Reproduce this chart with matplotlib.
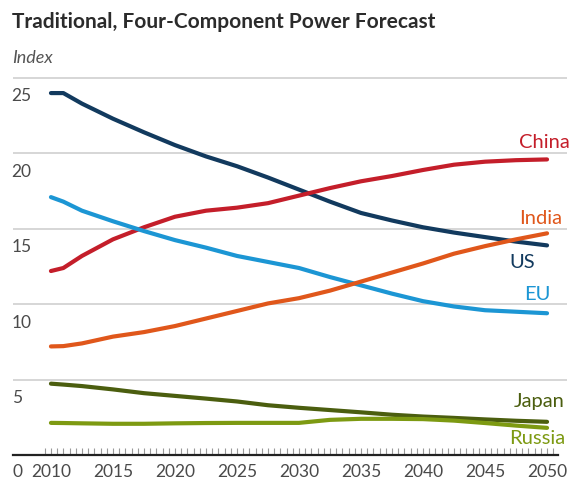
import matplotlib
matplotlib.use("Agg")
import matplotlib.pyplot as plt
import matplotlib.transforms as mtransforms
import numpy as np

plt.rcParams['font.family'] = ['Lato', 'DejaVu Sans']

# ---- data ----
years = [2010, 2011, 2012.5, 2015, 2017.5, 2020, 2022.5, 2025, 2027.5, 2030,
         2032.5, 2035, 2037.5, 2040, 2042.5, 2045, 2047.5, 2050]
us     = [24.0, 24.0, 23.3, 22.3, 21.4, 20.55, 19.8, 19.15, 18.4, 17.6,
          16.8, 16.05, 15.55, 15.1, 14.75, 14.45, 14.15, 13.9]
china  = [12.2, 12.4, 13.2, 14.3, 15.1, 15.8, 16.2, 16.4, 16.7, 17.2,
          17.7, 18.15, 18.5, 18.9, 19.25, 19.45, 19.55, 19.6]
eu     = [17.1, 16.8, 16.2, 15.5, 14.85, 14.25, 13.75, 13.2, 12.8, 12.4,
          11.8, 11.25, 10.7, 10.2, 9.85, 9.6, 9.5, 9.4]
india  = [7.2, 7.22, 7.4, 7.85, 8.15, 8.55, 9.05, 9.55, 10.05, 10.4,
          10.9, 11.5, 12.1, 12.7, 13.35, 13.85, 14.3, 14.7]
japan  = [4.73, 4.67, 4.57, 4.35, 4.1, 3.92, 3.74, 3.55, 3.3, 3.13,
          2.98, 2.83, 2.67, 2.55, 2.46, 2.36, 2.27, 2.2]
russia = [2.13, 2.12, 2.1, 2.07, 2.07, 2.1, 2.12, 2.13, 2.13, 2.13,
          2.33, 2.4, 2.4, 2.38, 2.28, 2.12, 1.95, 1.8]

series_names = ["US", "China", "EU", "India", "Japan", "Russia"]
series_values = [us, china, eu, india, japan, russia]
series_colors = ["#123a5e", "#c41e2a", "#1c96d4", "#e0571b", "#4b5e0f", "#7d9a12"]

y_ticks = [0, 5, 10, 15, 20, 25]
x_ticks = [2010, 2015, 2020, 2025, 2030, 2035, 2040, 2045, 2050]

# ---- figure ----
W, H = 573, 479
fig = plt.figure(figsize=(W / 100, H / 100), dpi=100)
ax = fig.add_axes([13 / W, 1 - 455 / H, 554 / W, 385 / H])
ax.set_xlim(2006.94, 2051.61)
ax.set_ylim(0, 25.53)

for s in ["top", "right", "left"]:
    ax.spines[s].set_visible(False)
ax.spines["bottom"].set_color("#222222")
ax.spines["bottom"].set_linewidth(1.6)
ax.spines["bottom"].set_bounds(2006.94, 2050.9)

# gridlines
for v in y_ticks[1:]:
    ax.axhline(v, color="#cccccc", lw=1.1, zorder=1)

# ticks (half-year, inward)
ax.set_yticks([])
ax.set_xticks(np.arange(2009.5, 2050.6, 0.5))
ax.set_xticklabels([])
ax.tick_params(axis="x", direction="in", length=5, width=0.8, color="#999999")

# lines
for name, vals, col in zip(series_names, series_values, series_colors):
    ax.plot(years, vals, color=col, lw=3.0, solid_capstyle="round",
            solid_joinstyle="round", zorder=3)

# y labels below gridlines
ytr = mtransforms.blended_transform_factory(ax.transAxes, ax.transData)
for v in y_ticks[1:]:
    ax.annotate(str(v), xy=(0, v), xycoords=ytr, xytext=(-1, -7.5),
                textcoords="offset points", ha="left", va="top",
                fontsize=12.5, color="#4a4a4a")

# x labels
xtr = mtransforms.blended_transform_factory(ax.transData, ax.transAxes)
for yr in x_ticks:
    ax.annotate(str(yr), xy=(yr, 0), xycoords=xtr, xytext=(0, -12.5),
                textcoords="offset points", ha="center", va="center",
                fontsize=12.5, color="#4a4a4a")
ax.annotate("0", xy=(0, 0), xycoords="axes fraction", xytext=(-0.5, -12.5),
            textcoords="offset points", ha="left", va="center",
            fontsize=12.5, color="#4a4a4a")

# series labels (pixel positions of label centers -> figure fraction)
label_pos = {"China": (570, 142), "India": (562, 218), "US": (535, 263),
             "EU": (550, 295), "Japan": (565, 402), "Russia": (565, 438)}
for name, col in zip(series_names, series_colors):
    px, py = label_pos[name]
    fig.text(px / W, 1 - py / H, name, ha="right", va="center",
             fontsize=14.5, color=col)

# title
fig.text(12 / W, 1 - 22 / H, "Traditional, Four-Component Power Forecast",
         ha="left", va="center", fontsize=15, fontweight="bold", color="#2b2b2b")
fig.text(12 / W, 1 - 58 / H, "Index", ha="left", va="center",
         fontsize=13, fontstyle="italic", color="#555555")

fig.savefig("out.png", dpi=100)
